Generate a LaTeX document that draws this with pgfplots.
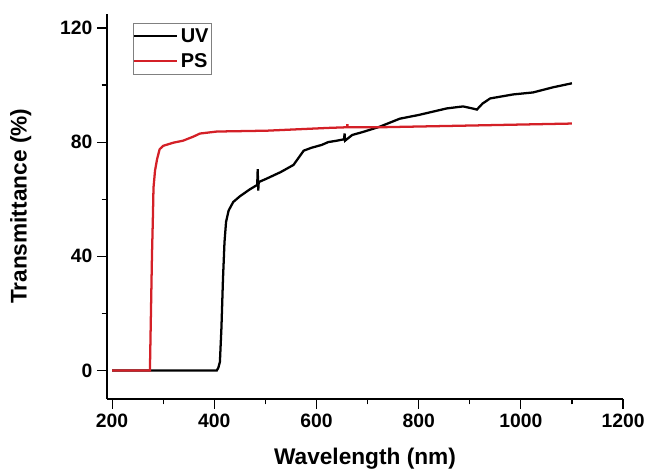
\documentclass[border=0pt]{standalone}
\usepackage{fontspec}
\setmainfont{Liberation Sans}
\usepackage{pgfplots}
\pgfplotsset{compat=1.18}
\definecolor{psred}{RGB}{212,32,39}
\begin{document}
\begin{tikzpicture}
\begin{axis}[
    scale only axis,
    width=387pt, height=289pt,
    xmin=190, xmax=1200,
    ymin=-10, ymax=125,
    axis x line=bottom, axis y line=left,
    axis line style={-, line width=0.9pt},
    xtick={200,400,...,1200},
    ytick={0,40,80,120},
    minor x tick num=1, minor y tick num=1,
    tick align=outside,
    major tick length=7.5pt, minor tick length=4pt,
    tick style={line width=0.9pt, black},
    /pgf/number format/assume math mode=true,
    /pgf/number format/1000 sep={},
    tick label style={font=\fontsize{14.5}{16}\selectfont\bfseries},
    xlabel={Wavelength (nm)},
    ylabel={Transmittance (\%)},
    label style={font=\fontsize{17}{19}\selectfont\bfseries},
    xlabel style={at={(axis description cs:0.5,-0.156)}, anchor=center},
    ylabel style={at={(axis description cs:-0.167,0.5)}, anchor=center, rotate=0},
    legend style={at={(axis description cs:0.05,0.977)}, anchor=north west,
        draw=gray, line width=0.6pt, inner xsep=0pt, inner ysep=2pt, row sep=3pt,
        font=\fontsize{15}{17}\selectfont\bfseries},
    legend cell align=left,
    legend image code/.code={\draw[#1] (-2pt,0pt) -- (30pt,0pt);},
]
\addplot[black, line width=1.7pt] coordinates {
(200,0)(300,0)(405,0)(408,1)(411,3)(414,15)(417,32)(420,45)(423,52)(428,56)
(437,59)(450,61)(470,63.5)(484,65)(485,70.5)(486,63)(487,66)(500,67)(530,69.5)
(555,72)(565,74.5)(575,77)(590,78)(610,79)(623,80)(640,80.5)(654,81)(655,83)
(656,80.5)(670,82.5)(690,83.5)(724,85.4)(763,88.2)(800,89.5)(855,91.8)(887,92.5)
(905,91.8)(914,91.4)(925,93.5)(940,95.3)(985,96.7)(1024,97.4)(1063,99.2)(1100,100.6)
};
\addlegendentry{UV}
\addplot[psred, line width=1.7pt] coordinates {
(200,0)(274,0)(276,20)(278,40)(280,55)(281,64)(284,70)(288,74)(293,77.5)(300,78.7)
(320,79.8)(339,80.5)(360,82)(372,83)(405,83.7)(503,84)(627,85)(660,85.2)(660.5,86.3)
(661,85.2)(724,85.2)(900,85.8)(1100,86.5)
};
\addlegendentry{PS}
\coordinate (O) at (rel axis cs:0,0);
\end{axis}
\pgfresetboundingbox
\path[use as bounding box] (O) ++(-80.25pt,-55.5pt) rectangle ++(489pt,354.75pt);
\end{tikzpicture}
\end{document}
